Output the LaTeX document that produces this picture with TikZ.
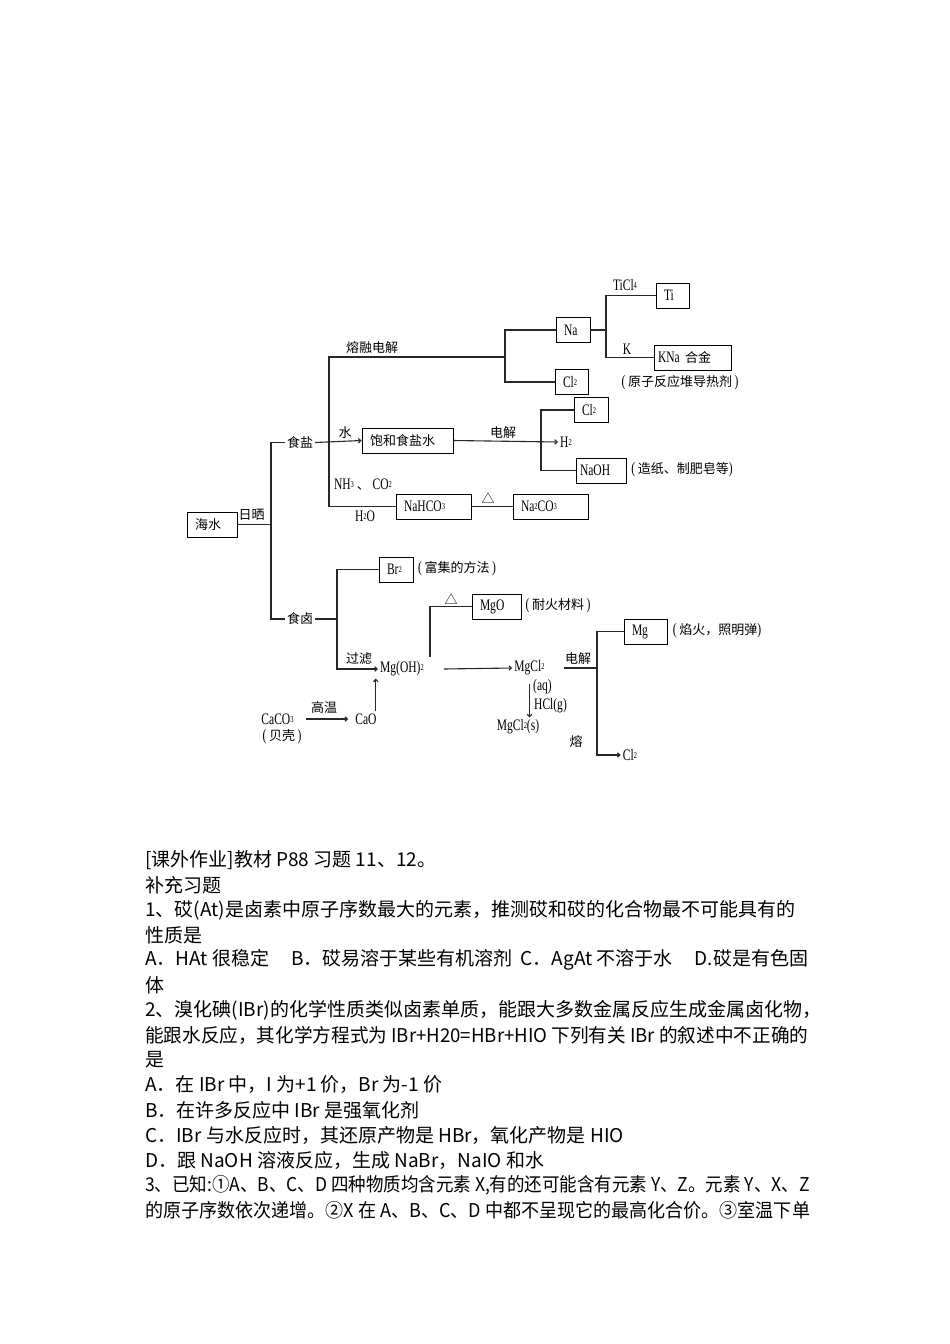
\documentclass[tikz,border=0pt]{standalone}
\usepackage{fontspec}
\setmainfont[FakeStretch=0.72]{Liberation Serif}
\newfontfamily\cjk{Noto Sans CJK SC}
\usepackage{graphicx}
\usepackage{tikz}
\usetikzlibrary{arrows.meta, positioning, calc}
\definecolor{linegray}{RGB}{40, 40, 40}
\newcommand{\zh}[1]{{\cjk\fontsize{13}{14}\selectfont #1}}
\newcommand{\sbs}[1]{\raisebox{2pt}{\fontsize{9}{9}\selectfont #1}}
\tikzset{
  chembox/.style = {draw=black, line width=0.9pt, minimum height=25pt, inner ysep=0pt, inner xsep=8pt, text width=#1, align=left, font=\fontsize{16}{16}\selectfont},
  lbl/.style     = {inner sep=2pt, font=\fontsize{16}{16}\selectfont},
  conn/.style    = {draw=linegray, line width=1.1pt},
  arr/.style     = {conn, -{Straight Barb[length=2.5pt, width=4.5pt]}},
  para/.style    = {anchor=west, inner sep=0pt, font=\cjk\fontsize{19}{25}\selectfont},
}

\begin{document}
\begin{tikzpicture}[x=1pt, y=-1pt]

\fill[white] (0,0) rectangle (950,1344);
\useasboundingbox (0,0) rectangle (950,1344);

% ================= 海水 / 日晒 =================
\node (haishui) [chembox=34pt] at (212,524.5) {\zh{海水}};
\node (shai)    [lbl] at (251.5,515) {\zh{日晒}};
\node (yan)     [lbl] at (300,442.5) {\zh{食盐}};
\node (lu)      [lbl] at (300,619)   {\zh{食卤}};

% ================= 食盐 =================
\node (baohe)  [chembox=75pt] at (407.5,440.5) {\zh{饱和食盐水}};
\node (na)     [chembox=18pt] at (573,330)     {Na};
\node (cltop)  [chembox=17pt] at (571.5,382)   {Cl\sbs{2}};
\node (ti)     [chembox=17pt] at (672.5,295.5) {Ti};
\node (kna)    [chembox=69pt, inner xsep=4pt] at (692.5,357.5) {KNa \zh{合金}};
\node (clmid)  [chembox=18pt] at (591,410)     {Cl\sbs{2}};
\node (naoh)   [chembox=42pt, inner xsep=4pt] at (601,470.5) {NaOH};
\node (nahco)  [chembox=59pt] at (433.5,506.5) {NaHCO\sbs{3}};
\node (naco)   [chembox=59pt] at (550.5,506.5) {Na\sbs{2}CO\sbs{3}};

\node (rongrong) [lbl] at (372,348) {\zh{熔融电解}};
\node (shui)     [lbl] at (345,433) {\zh{水}};
\node (dianjie)  [lbl] at (503,433) {\zh{电解}};
\node (nhco)     [lbl] at (363,485) {NH\sbs{3} \zh{、} CO\sbs{2}};
\node (water)    [lbl] at (365,516) {H\sbs{2}O};
\node (heat)     [lbl] at (488,498) {\zh{△}};
\node (ticl)     [lbl] at (625,285) {TiCl\sbs{4}};
\node (kk)       [lbl] at (627,349) {K};
\node (use1)     [lbl] at (680,383) {(\,\zh{原子反应堆导热剂}\,)};
\node (htwo)     [lbl] at (566,442) {H\sbs{2}};
\node (use2)     [lbl] at (682,470) {(\,\zh{造纸、制肥皂等})};

% ================= 食卤 =================
\node (brom)   [chembox=18pt] at (396,569.5)   {Br\sbs{2}};
\node (mgo)    [chembox=33pt] at (496.5,606.5) {MgO};
\node (mg)     [chembox=27pt] at (645.5,631.5) {Mg};

\node (use3)     [lbl] at (457,569) {(\,\zh{富集的方法}\,)};
\node (mgoh)     [lbl] at (402,669) {Mg(OH)\sbs{2}};
\node (guolv)    [lbl] at (359,659) {\zh{过滤}};
\node (caco)     [lbl] at (277.5,719) {CaCO\sbs{3}};
\node (beike)    [lbl] at (282,737) {(\,\zh{贝壳}\,)};
\node (gaowen)   [lbl] at (324,708) {\zh{高温}};
\node (cao)      [lbl] at (366,719) {CaO};
\node (heat2)    [lbl] at (451,599) {\zh{△}};
\node (use4)     [lbl] at (558,606) {(\,\zh{耐火材料}\,)};
\node (mgcl)     [lbl] at (529.5,668) {MgCl\sbs{2}};
\node (aq)       [lbl, anchor=west] at (531,687) {(aq)};
\node (hclg)     [lbl, anchor=west] at (532,706) {HCl(g)};
\node (mgcls)    [lbl] at (518,727) {MgCl\sbs{2}(s)};
\node (dianjie2) [lbl] at (578,659) {\zh{电解}};
\node (rong)     [lbl] at (576,742) {\zh{熔}};
\node (cllow)    [lbl] at (630,755) {Cl\sbs{2}};
\node (use5)     [lbl] at (717,631) {(\,\zh{焰火，照明弹})};

% ================= 连线 =================
\coordinate (jtrunk)   at (271,524.5);
\coordinate (jsalttop) at (329,357);
\coordinate (jsaltbot) at (329,506.5);
\coordinate (jmelt)    at (505,357);
\coordinate (jna)      at (606,330);
\coordinate (jelec)    at (541,440.5);
\coordinate (jlu)      at (337,619);
\coordinate (jheat)    at (430,657);
\coordinate (jmg)      at (597,668);

\draw [conn] (haishui.east) -- (jtrunk);
\draw [conn] (yan.west) -| (jtrunk) |- (lu.west);

% 食盐
\draw [arr]  (yan.east) -- (baohe.west);
\draw [conn] (jsaltbot) -- (jsalttop) -- (jmelt);
\draw [conn] (na.west) -| (jmelt) |- (cltop.west);
\draw [conn] (na.east) -- (jna);
\draw [conn] (ti.west) -| (jna) |- (kna.west);
\draw [arr]  (baohe.east) -- (htwo.west);
\draw [conn] (clmid.west) -| (jelec) |- (naoh.west);
\draw [conn] (jsaltbot) -- (nahco.west);
\draw [conn] (nahco.east) -- (naco.west);

% 食卤
\draw [conn] (lu.east) -- (jlu);
\draw [conn] (brom.west) -| (jlu);
\draw [arr]  (jlu) |- (mgoh.west);
\draw [arr]  ([xshift=10pt]caco.east) -- ([xshift=-5pt]cao.west);
\draw [arr]  ([xshift=-3pt]cao.north east) -- ([xshift=-3pt]cao.north east |- mgoh.south);
\draw [conn] (jheat) |- (mgo.west);
\draw [arr]  ([xshift=18pt]mgoh.east) -- (mgcl.west);
\draw [arr]  ([yshift=-7pt]mgcl.south) -- (mgcl.south |- mgcls.north);
\draw [conn] ([xshift=17pt]mgcl.east) -- (jmg);
\draw [conn] (mg.west) -| (jmg);
\draw [arr]  (jmg) |- (cllow.west);

% ================= 习题 =================
\node (t1)  [para] at (145,860)  {[课外作业]教材 P88 习题 11、12。};
\node (t2)  [para] at (145,885)  {补充习题};
\node (t3)  [para] at (145,910)  {1、砹(At)是卤素中原子序数最大的元素，推测砹和砹的化合物最不可能具有的};
\node (t4)  [para] at (145,935)  {性质是};
\node (t5)  [para] at (145,960)  {A．HAt 很稳定\hspace{22pt}B．砹易溶于某些有机溶剂\hspace{8pt}C．AgAt 不溶于水\hspace{22pt}D.砹是有色固};
\node (t6)  [para] at (145,985)  {体};
\node (t7)  [para] at (145,1010) {2、溴化碘(IBr)的化学性质类似卤素单质，能跟大多数金属反应生成金属卤化物，};
\node (t8)  [para] at (145,1035) {\scalebox{0.98}[1]{能跟水反应，其化学方程式为 IBr+H20=HBr+HIO 下列有关 IBr 的叙述中不正确的}};
\node (t9)  [para] at (145,1060) {是};
\node (t10) [para] at (145,1085) {A．在 IBr 中，I 为+1 价，Br 为-1 价};
\node (t11) [para] at (145,1110) {B．在许多反应中 IBr 是强氧化剂};
\node (t12) [para] at (145,1135) {C．IBr 与水反应时，其还原产物是 HBr，氧化产物是 HIO};
\node (t13) [para] at (145,1160) {D．跟 NaOH 溶液反应，生成 NaBr，NaIO 和水};
\node (t14) [para] at (145,1185) {\scalebox{0.92}[1]{3、已知:①A、B、C、D 四种物质均含元素 X,有的还可能含有元素 Y、Z。元素 Y、X、Z}};
\node (t15) [para] at (145,1210) {\scalebox{0.95}[1]{的原子序数依次递增。②X 在 A、B、C、D 中都不呈现它的最高化合价。③室温下单}};

\end{tikzpicture}
\end{document}
